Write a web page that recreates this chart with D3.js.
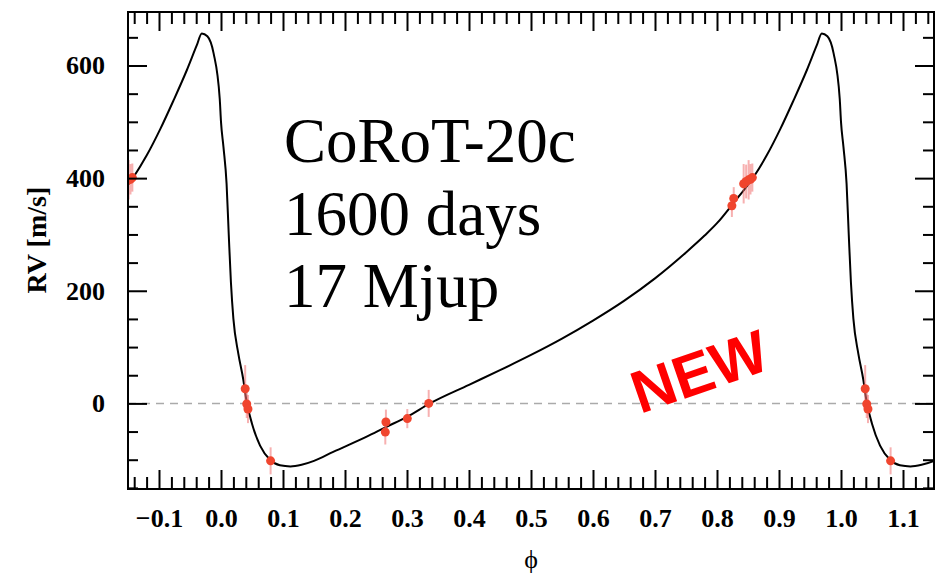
<!DOCTYPE html>
<html>
<head>
<meta charset="utf-8">
<script src="https://cdn.jsdelivr.net/npm/d3@7"></script>
<style>
  body { margin: 0; background: #fff; }
</style>
</head>
<body>
<div id="rvPlot"></div>
<script>
// model RV curve over one orbit (phase 0..1)
const modelPhase = [0.000, 0.004, 0.009, 0.0125, 0.016, 0.020, 0.028, 0.036, 0.041, 0.050,
  0.063, 0.079, 0.095, 0.112, 0.130, 0.150, 0.181, 0.235, 0.266, 0.300,
  0.337, 0.400, 0.450, 0.500, 0.550, 0.600, 0.650, 0.700, 0.750, 0.780,
  0.800, 0.826, 0.859, 0.880, 0.902, 0.923, 0.945, 0.961, 0.969, 0.978, 0.988, 0.998];
const modelRV = [500, 455, 390, 300, 215, 150, 88, 42, 5, -36,
  -75, -100, -110, -112, -109, -102, -86, -59, -42, -24,
  0, 33, 59, 86, 115, 147, 182, 222, 268, 298,
  320, 355, 402, 440, 487, 537, 592, 636, 657, 652, 622, 540];

// measured velocities, folded on phase 0..1
const obsPhase = [0.039, 0.0415, 0.0435, 0.080, 0.265, 0.266, 0.3005, 0.335,
  0.824, 0.827, 0.843, 0.847, 0.851, 0.854, 0.857];
const obsRV = [26, -1, -10, -102, -51, -33, -27, 0,
  351, 364, 390, 394, 397, 398, 401];
const obsErr = [42, 25, 25, 24, 22, 22, 17, 24,
  20, 20, 35, 30, 35, 27, 25];

const xMajorTicks = [-0.1, 0.0, 0.1, 0.2, 0.3, 0.4, 0.5, 0.6, 0.7, 0.8, 0.9, 1.0, 1.1];
const yMajorTicks = [0, 200, 400, 600];
const noteLines = ["CoRoT-20c", "1600 days", "17 Mjup"];

class RvPlot {

  constructor() {
    this.initVis();
  }

  initVis() {
    let vis = this;
    vis.margin = {top: 12, right: 4, bottom: 85, left: 128};
    vis.width = 938 - vis.margin.left - vis.margin.right;
    vis.height = 574 - vis.margin.top - vis.margin.bottom;

    vis.svg = d3.select("#rvPlot")
      .append("svg")
        .attr("width", 938)
        .attr("height", 574)
      .append("g")
        .attr("transform", "translate(" + vis.margin.left + "," + vis.margin.top + ")");

    vis.svg.append("clipPath").attr("id", "plotClip")
      .append("rect").attr("width", vis.width).attr("height", vis.height);

    vis.xScale = d3.scaleLinear().domain([-0.15, 1.15]).range([0, vis.width]);
    vis.yScale = d3.scaleLinear().domain([-152, 695]).range([vis.height, 0]);

    // label for x axis
    vis.svg.append("text")
      .attr("x", vis.xScale(0.5))
      .attr("y", vis.height + 79)
      .style("text-anchor", "middle")
      .style("font-family", "Liberation Serif")
      .style("font-size", "26px")
      .text("\u03D5");

    // label for y axis
    vis.svg.append("text")
      .attr("transform", "rotate(-90)")
      .attr("x", -vis.yScale(290))
      .attr("y", -82)
      .style("text-anchor", "middle")
      .style("font-family", "Liberation Serif")
      .style("font-weight", "bold")
      .style("font-size", "28px")
      .text("RV [m/s]");
  }

  updateVis() {
    let vis = this;

    // repeat the folded orbit so it covers -0.15..1.15
    let model = [];
    let points = [];
    [-1, 0, 1].forEach(k => {
      modelPhase.forEach((p, i) => model.push({phase: p + k, rv: modelRV[i]}));
      obsPhase.forEach((p, i) => points.push({phase: p + k, rv: obsRV[i], err: obsErr[i]}));
    });
    model = model.filter(d => d.phase > -0.3 && d.phase < 1.3);
    points = points.filter(d => d.phase > -0.16 && d.phase < 1.16);

    // zero line
    vis.svg.append("line")
      .attr("x1", 0).attr("x2", vis.width)
      .attr("y1", vis.yScale(0)).attr("y2", vis.yScale(0))
      .style("stroke", "#aaaaaa")
      .style("stroke-width", 1.5)
      .style("stroke-dasharray", "8,6");

    let plot = vis.svg.append("g").attr("clip-path", "url(#plotClip)");

    plot.append("path")
      .datum(model)
      .attr("d", d3.line()
        .x(d => vis.xScale(d.phase))
        .y(d => vis.yScale(d.rv))
        .curve(d3.curveMonotoneX))
      .style("fill", "none")
      .style("stroke", "#000")
      .style("stroke-width", 2);

    plot.append("g").selectAll("line")
      .data(points).enter()
      .append("line")
        .attr("x1", d => vis.xScale(d.phase))
        .attr("x2", d => vis.xScale(d.phase))
        .attr("y1", d => vis.yScale(d.rv - d.err))
        .attr("y2", d => vis.yScale(d.rv + d.err))
        .style("stroke", "#f07070")
        .style("stroke-opacity", 0.55)
        .style("stroke-width", 2);

    plot.append("g").selectAll("circle")
      .data(points).enter()
      .append("circle")
        .attr("cx", d => vis.xScale(d.phase))
        .attr("cy", d => vis.yScale(d.rv))
        .attr("r", 4.5)
        .style("fill", "#f0452e");

    // ticks on all four sides, pointing inward
    let xMinor = d3.range(-14, 115, 2).map(d => d / 100).filter(d => Math.round(d * 100) % 10 !== 0);
    let yMinor = d3.range(-150, 651, 50).filter(d => d % 200 !== 0);
    let fmt = d3.format(".1f");

    let axes = [
      vis.svg.append("g").attr("transform", "translate(0," + vis.height + ")")
        .call(d3.axisBottom(vis.xScale).tickValues(xMajorTicks).tickSize(-19).tickPadding(20).tickFormat(fmt)),
      vis.svg.append("g").attr("transform", "translate(0," + vis.height + ")")
        .call(d3.axisBottom(vis.xScale).tickValues(xMinor).tickSize(-12).tickFormat("")),
      vis.svg.append("g")
        .call(d3.axisTop(vis.xScale).tickValues(xMajorTicks).tickSize(-19).tickFormat("")),
      vis.svg.append("g")
        .call(d3.axisTop(vis.xScale).tickValues(xMinor).tickSize(-12).tickFormat("")),
      vis.svg.append("g")
        .call(d3.axisLeft(vis.yScale).tickValues(yMajorTicks).tickSize(-19).tickPadding(23)),
      vis.svg.append("g")
        .call(d3.axisLeft(vis.yScale).tickValues(yMinor).tickSize(-10).tickFormat("")),
      vis.svg.append("g").attr("transform", "translate(" + vis.width + ",0)")
        .call(d3.axisRight(vis.yScale).tickValues(yMajorTicks).tickSize(-19).tickFormat("")),
      vis.svg.append("g").attr("transform", "translate(" + vis.width + ",0)")
        .call(d3.axisRight(vis.yScale).tickValues(yMinor).tickSize(-11).tickFormat(""))
    ];
    axes.forEach(a => {
      a.select(".domain").remove();
      a.selectAll(".tick line").style("stroke", "#000").style("stroke-width", 2);
      a.selectAll(".tick text")
        .style("font-family", "Liberation Serif")
        .style("font-weight", "bold")
        .style("font-size", "26px")
        .style("fill", "#000");
    });

    vis.svg.append("rect")
      .attr("width", vis.width).attr("height", vis.height)
      .style("fill", "none")
      .style("stroke", "#000")
      .style("stroke-width", 2);

    // annotation
    vis.svg.append("g").selectAll("text")
      .data(noteLines).enter()
      .append("text")
        .attr("x", 284 - vis.margin.left)
        .attr("y", (d, i) => 162 - vis.margin.top + i * 72.5)
        .style("font-family", "Liberation Serif")
        .style("font-size", "63px")
        .style("fill", "#000")
        .text(d => d);

    vis.svg.append("text")
      .attr("transform", "translate(" + (640 - vis.margin.left) + "," + (414 - vis.margin.top) + ") rotate(-19)")
      .style("font-family", "Liberation Sans")
      .style("font-weight", "bold")
      .style("font-size", "60px")
      .style("fill", "#ff0000")
      .text("NEW");
  }
}

let rvPlot = new RvPlot();
rvPlot.updateVis();
</script>
</body>
</html>
